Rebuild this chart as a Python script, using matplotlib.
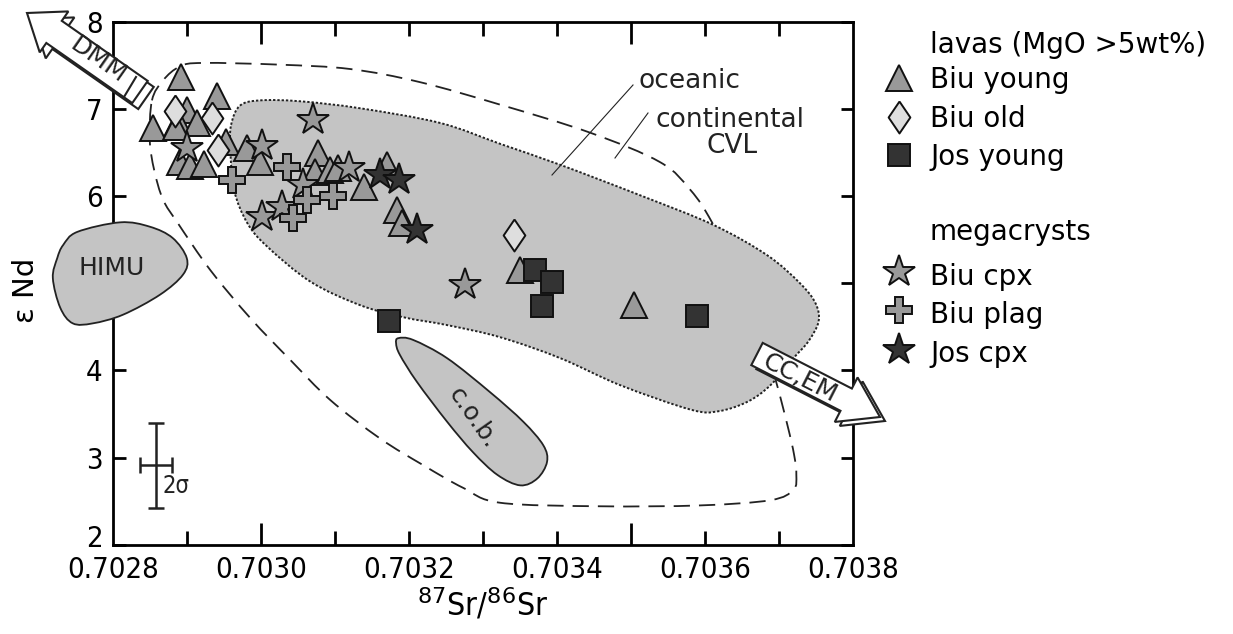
import numpy as np
import matplotlib
matplotlib.use("Agg")
import matplotlib.pyplot as plt
from matplotlib.path import Path
from matplotlib.patches import PathPatch, Polygon
from matplotlib.lines import Line2D
from matplotlib.ticker import FixedLocator, FuncFormatter

plt.rcParams["font.family"] = ["DejaVu Sans"]
NARROW = dict(family=["Liberation Sans Narrow", "DejaVu Sans"], stretch="condensed")

# ---- data (87Sr/86Sr, eps Nd) ----
biu_young_sr = [0.702891, 0.702940, 0.702853, 0.702899, 0.702887, 0.702913, 0.702885,
                0.702952, 0.702890, 0.702903, 0.702922, 0.702981, 0.702998, 0.703077,
                0.703072, 0.703093, 0.703104, 0.703139, 0.703170, 0.703183, 0.703190,
                0.703350, 0.703504]
biu_young_nd = [7.37, 7.15, 6.78, 6.99, 6.85, 6.84, 6.79,
                6.62, 6.39, 6.35, 6.37, 6.55, 6.39, 6.50,
                6.28, 6.30, 6.32, 6.11, 6.36, 5.84, 5.69,
                5.15, 4.75]
biu_old_sr = [0.702883, 0.702933, 0.702941, 0.703342]
biu_old_nd = [6.98, 6.90, 6.53, 5.55]
jos_young_sr = [0.703173, 0.703370, 0.703393, 0.703379, 0.703589]
jos_young_nd = [4.57, 5.15, 5.01, 4.74, 4.62]
biu_cpx_sr = [0.702899, 0.703001, 0.703070, 0.703001, 0.703028, 0.703056, 0.703118, 0.703275]
biu_cpx_nd = [6.55, 6.58, 6.87, 5.76, 5.88, 6.13, 6.32, 4.98]
biu_plag_sr = [0.702960, 0.703035, 0.703062, 0.703043, 0.703097]
biu_plag_nd = [6.19, 6.34, 5.96, 5.75, 6.00]
jos_cpx_sr = [0.703160, 0.703186, 0.703210]
jos_cpx_nd = [6.24, 6.19, 5.61]

# field outlines (same units)
cvl_sr = [0.702959, 0.702971, 0.702998, 0.703052, 0.703133, 0.703242, 0.703323, 0.703404,
          0.703512, 0.703611, 0.703684, 0.703728, 0.703749, 0.703753, 0.703739, 0.703719,
          0.703688, 0.703657, 0.703617, 0.703580, 0.703485, 0.703404, 0.703323, 0.703251,
          0.703192, 0.703133, 0.703066, 0.703008, 0.702981, 0.702963, 0.702958]
cvl_nd = [6.82, 7.04, 7.10, 7.09, 7.01, 6.84, 6.60, 6.36,
          6.01, 5.67, 5.32, 5.00, 4.77, 4.56, 4.33, 4.14,
          3.83, 3.64, 3.53, 3.55, 3.83, 4.14, 4.38, 4.52,
          4.61, 4.75, 5.02, 5.42, 5.69, 6.07, 6.53]
oceanic_sr = [0.702852, 0.702867, 0.702890, 0.702921, 0.703025, 0.703120, 0.703214, 0.703323,
              0.703444, 0.703539, 0.703580, 0.703609, 0.703647, 0.703674, 0.703695, 0.703711,
              0.703720, 0.703723, 0.703719, 0.703688, 0.703593, 0.703458, 0.703323, 0.703273,
              0.703219, 0.703160, 0.703093, 0.703039, 0.702985, 0.702931, 0.702887, 0.702867,
              0.702855, 0.702849]
oceanic_nd = [7.10, 7.33, 7.49, 7.53, 7.51, 7.46, 7.31, 7.05,
              6.73, 6.39, 6.07, 5.70, 5.04, 4.46, 3.89, 3.37,
              3.03, 2.80, 2.63, 2.51, 2.45, 2.44, 2.48, 2.65,
              2.91, 3.22, 3.66, 4.12, 4.60, 5.15, 5.69, 5.96,
              6.30, 6.65]
himu_sr = [0.702809, 0.702849, 0.702880, 0.702899, 0.702894, 0.702863, 0.702813, 0.702772,
           0.702745, 0.702728, 0.702718, 0.702724, 0.702732, 0.702751]
himu_nd = [5.70, 5.65, 5.52, 5.29, 5.10, 4.87, 4.64, 4.54,
           4.54, 4.72, 5.06, 5.29, 5.44, 5.59]
cob_sr = [0.703185, 0.703205, 0.703251, 0.703309, 0.703354, 0.703381, 0.703386, 0.703373,
          0.703350, 0.703319, 0.703286, 0.703251, 0.703210, 0.703187, 0.703182]
cob_nd = [4.37, 4.35, 4.14, 3.75, 3.41, 3.14, 2.95, 2.76,
          2.68, 2.80, 3.06, 3.41, 3.87, 4.18, 4.31]

err_sr, err_nd = 0.702857, 2.91
err_dsr, err_dnd = 0.0000216, 0.49

x_labels = ["0.7028", "0.7030", "0.7032", "0.7034", "0.7036", "0.7038"]
y_ticks = [2, 3, 4, 5, 6, 7, 8]
y_labels = ["", "3", "4", "", "6", "7", "8"]   # 5 sits under the HIMU field, 2 drawn apart

W, H = 1233, 634
fig = plt.figure(figsize=(W / 100, H / 100), dpi=100)
ax = fig.add_axes([113.5 / W, 1 - 544.6 / H, (853.3 - 113.5) / W, (544.6 - 22) / H])
ax.set_xlim(0.7028, 0.7038)
ax.set_ylim(2, 8)


def fx(px):
    return px / W


def fy(py):
    return 1 - py / H


def smooth_closed(xs, ys):
    pts = np.column_stack([xs, ys])
    n = len(pts)
    verts = [pts[0]]
    codes = [Path.MOVETO]
    for i in range(n):
        p0, p1, p2, p3 = pts[i - 1], pts[i], pts[(i + 1) % n], pts[(i + 2) % n]
        verts += [p1 + (p2 - p0) / 6, p2 - (p3 - p1) / 6, p2]
        codes += [Path.CURVE4] * 3
    return Path(verts, codes)


GRAY = "#c4c4c4"
ax.add_patch(PathPatch(smooth_closed(oceanic_sr, oceanic_nd), fill=False, ec="#222222",
                       lw=1.3, ls=(0, (9, 5)), zorder=1))
ax.add_patch(PathPatch(smooth_closed(cvl_sr, cvl_nd), fc=GRAY, ec="#222222",
                       lw=1.4, ls=(0, (1.2, 1.0)), zorder=1.5))
ax.add_patch(PathPatch(smooth_closed(himu_sr, himu_nd), fc=GRAY, ec="#222222",
                       lw=1.3, zorder=3, clip_on=False))
ax.add_patch(PathPatch(smooth_closed(cob_sr, cob_nd), fc=GRAY, ec="#222222",
                       lw=1.3, zorder=3))
ax.text(0.702798, 5.18, "HIMU", fontsize=18, ha="center", va="center", color="#222222",
        zorder=3.5, clip_on=False)
ax.text(0.703286, 3.45, "c.o.b.", fontsize=18, ha="center", va="center", color="#222222",
        rotation=-55, zorder=3.5)

# markers
mk = dict(mec="#111111", mew=1.4, ls="none", zorder=4)
diamond = [(0, 1), (0.68, 0), (0, -1), (-0.68, 0), (0, 1)]
styles = [
    ("Biu young", "^", 19, "#999999", biu_young_sr, biu_young_nd),
    ("Biu old", diamond, 23, "#dedede", biu_old_sr, biu_old_nd),
    ("Jos young", "s", 16.5, "#333333", jos_young_sr, jos_young_nd),
    ("Biu cpx", "*", 24, "#999999", biu_cpx_sr, biu_cpx_nd),
    ("Biu plag", "P", 18.5, "#999999", biu_plag_sr, biu_plag_nd),
    ("Jos cpx", "*", 24, "#333333", jos_cpx_sr, jos_cpx_nd),
]
for name, m, ms, fc, xs, ys in styles:
    ax.plot(xs, ys, marker=m, ms=ms, mfc=fc, **mk)

# 2 sigma error bar
ax.errorbar(err_sr, err_nd, xerr=err_dsr, yerr=err_dnd, fmt="none", ecolor="#222222",
            elinewidth=1.8, capsize=6, capthick=1.8, zorder=4)
ax.text(0.702866, 2.59, "2σ", fontsize=17, color="#222222", va="baseline", **NARROW)

# axes styling
for s in ax.spines.values():
    s.set_linewidth(2.0)
    s.set_zorder(2.5)
ax.xaxis.set_major_locator(FixedLocator([0.7030, 0.7035]))
ax.xaxis.set_minor_locator(FixedLocator([0.7029, 0.7031, 0.7032, 0.7033, 0.7034,
                                         0.7036, 0.7037]))
ax.xaxis.set_major_formatter(FuncFormatter(lambda v, p: "0.7030" if abs(v - 0.7030) < 1e-7 else ""))
ax.xaxis.set_minor_formatter(FuncFormatter(
    lambda v, p: next((l for l in x_labels if abs(float(l) - v) < 1e-7), "")))
ax.set_yticks(y_ticks)
ax.set_yticklabels(y_labels)
ax.tick_params(which="both", direction="in", top=True, right=True, width=2.0,
               labelsize=21, pad=8)
ax.tick_params(which="major", axis="x", length=16)
ax.tick_params(which="minor", axis="x", length=10)
ax.tick_params(axis="y", length=9, pad=8)
for lab in ax.get_xticklabels(which="both") + ax.get_yticklabels():
    lab.set_family(NARROW["family"])
    lab.set_stretch("condensed")
# end labels drawn at the limits
for v in (0.7028, 0.7038):
    ax.text(v, -0.021, "%.4f" % v, transform=ax.get_xaxis_transform(), ha="center",
            va="top", fontsize=21, **NARROW)
ax.annotate("2", xy=(0, 2), xycoords=("axes fraction", "data"), xytext=(-8, 4),
            textcoords="offset points", ha="right", va="center", fontsize=21,
            annotation_clip=False, **NARROW)

fig.text(fx(483), fy(605), r"$^{87}$Sr/$^{86}$Sr", fontsize=23, ha="center", va="center",
         **NARROW)
fig.text(fx(26), fy(290), "ε Nd", fontsize=21, rotation=90, ha="center", va="center")

# annotations
fig.text(fx(638), fy(88), "oceanic", fontsize=19, va="baseline", color="#222222")
fig.text(fx(655), fy(127), "continental", fontsize=19, va="baseline", color="#222222")
fig.text(fx(732), fy(153), "CVL", fontsize=19, va="baseline", ha="center", color="#222222")
for (x0, y0, x1, y1) in [(552, 175, 633, 85), (615, 158, 648, 113)]:
    fig.add_artist(Line2D([fx(x0), fx(x1)], [fy(y0), fy(y1)], lw=0.8, color="#222222"))


def arrow_poly(tail, tip, w, hw, hl):
    t = np.array(tail, float)
    p = np.array(tip, float)
    u = (p - t) / np.linalg.norm(p - t)
    n = np.array([-u[1], u[0]])
    b = p - u * hl
    pts = [t + n * w, b + n * w, b + n * hw, p, b - n * hw, b - n * w, t - n * w]
    return [(fx(q[0]), fy(q[1])) for q in pts]


def fat_arrow(tail, tip, w, hw, hl, off):
    back = arrow_poly((tail[0] + off[0], tail[1] + off[1]), (tip[0] + off[0], tip[1] + off[1]),
                      w, hw, hl)
    front = arrow_poly(tail, tip, w, hw, hl)
    for pts in (back, front):
        fig.add_artist(Polygon(pts, closed=True, fc="white", ec="#222222", lw=1.5, zorder=5))


fat_arrow((140, 92), (27, 13), 13.5, 25, 33, (6, 6))
fig.add_artist(Line2D([fx(136), fx(124)], [fy(77), fy(97)], lw=1.5, color="#222222", zorder=6))
fig.text(fx(98), fy(60), "DMM", fontsize=18, rotation=-35, ha="center", va="center",
         rotation_mode="anchor", zorder=6, color="#222222")
fat_arrow((757, 354), (880, 417), 12.5, 25, 38, (5, 4))
fig.text(fx(800), fy(378), "CC,EM", fontsize=18, rotation=-27, ha="center", va="center",
         rotation_mode="anchor", zorder=6, color="#222222")

# legend
legend_x = 930
fig.text(fx(legend_x), fy(53), "lavas (MgO >5wt%)", fontsize=20, va="baseline")
fig.text(fx(legend_x), fy(240), "megacrysts", fontsize=20, va="baseline")
legend_rows = [(78, 88), (117, 127), (155, 165), (272, 285), (310, 323), (350, 362)]
for (name, m, ms, fc, xs, ys), (my, ty) in zip(styles, legend_rows):
    fig.add_artist(Line2D([fx(899)], [fy(my)], marker=m, ms=ms, mfc=fc, mec="#111111",
                          mew=1.4, ls="none"))
    fig.text(fx(legend_x), fy(ty), name, fontsize=20, va="baseline")

fig.savefig("out.png", dpi=100)
